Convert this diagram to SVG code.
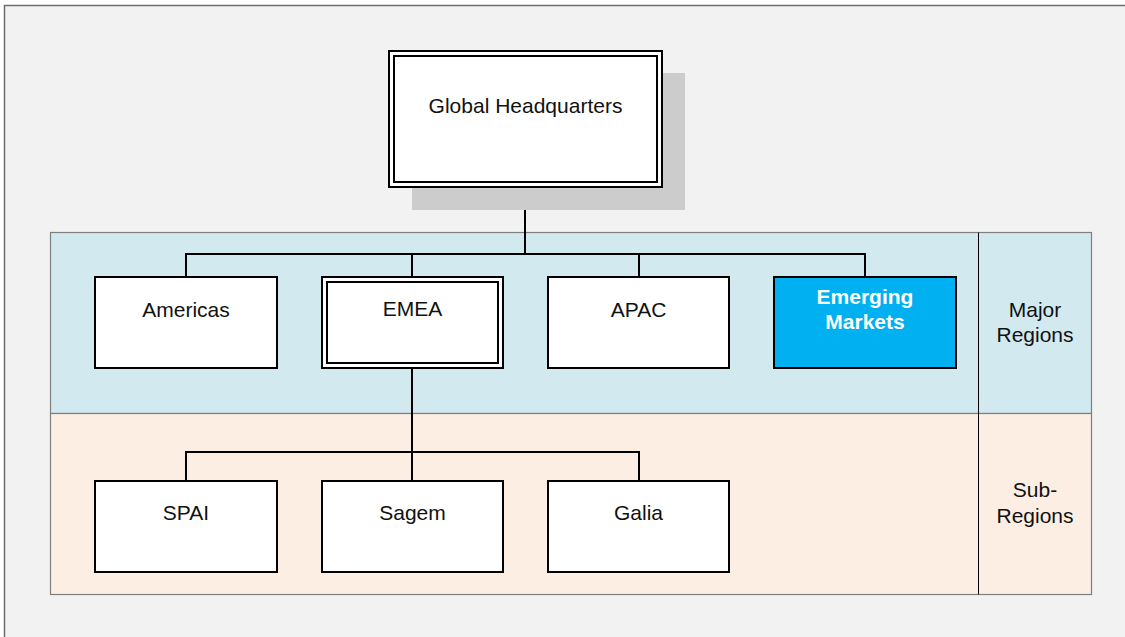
<svg xmlns="http://www.w3.org/2000/svg" width="1125" height="637" viewBox="0 0 1125 637">
  <style>
    .box { fill: #ffffff; stroke: #000000; stroke-width: 2; }
    .inner { fill: none; stroke: #000000; stroke-width: 2; }
    .conn { fill: none; stroke: #000000; stroke-width: 2; }
    .lbl { font-family: "Liberation Sans", Arial, sans-serif; font-size: 21px; fill: #111111; text-anchor: middle; }
    .bold { font-weight: bold; fill: #ffffff; }
    .band { stroke: #7f7f7f; stroke-width: 1.2; }
  </style>

  <!-- canvas -->
  <rect x="0" y="0" width="1125" height="637" fill="#ffffff"/>
  <rect x="4.5" y="5.5" width="1121" height="632" fill="#f2f2f2"/>
  <path d="M4.5,637 V5.5 H1125" fill="none" stroke="#6e6e6e" stroke-width="1.5"/>

  <!-- level bands -->
  <g id="bands">
    <rect class="band" x="50.5" y="232.5" width="1041" height="181" fill="#d2e9ef"/>
    <rect class="band" x="50.5" y="413.5" width="1041" height="181" fill="#fdeee4"/>
    <line x1="978.5" y1="232.5" x2="978.5" y2="594.5" stroke="#000000" stroke-width="1"/>
    <text class="lbl" x="1035" y="317">Major</text>
    <text class="lbl" x="1035" y="342">Regions</text>
    <text class="lbl" x="1035" y="497">Sub-</text>
    <text class="lbl" x="1035" y="523">Regions</text>
  </g>

  <!-- connectors -->
  <g id="connectors">
    <path class="conn" d="M525,187 V254 M186,277 V254 H865 V283 M412,254 V277 M639,254 V277"/>
    <path class="conn" d="M412,368 V452 M186,481 V452 H639 V481 M412,452 V481"/>
  </g>

  <!-- Global Headquarters -->
  <g id="node-hq">
    <rect x="412" y="73" width="273" height="137" fill="#cccccc"/>
    <rect class="box" x="389" y="51" width="273" height="136"/>
    <rect class="inner" x="394" y="56" width="263" height="126"/>
    <text class="lbl" x="525.5" y="113">Global Headquarters</text>
  </g>

  <g id="node-americas">
    <rect class="box" x="95" y="277" width="182" height="91"/>
    <text class="lbl" x="186" y="317">Americas</text>
  </g>

  <g id="node-emea">
    <rect class="box" x="322" y="277" width="181" height="91"/>
    <rect class="inner" x="327" y="282" width="171" height="81"/>
    <text class="lbl" x="412.5" y="316">EMEA</text>
  </g>

  <g id="node-apac">
    <rect class="box" x="548" y="277" width="181" height="91"/>
    <text class="lbl" x="638.5" y="317">APAC</text>
  </g>

  <g id="node-emerging">
    <rect class="box" x="774" y="277" width="182" height="91" style="fill:#00b0f0"/>
    <text class="lbl bold" x="865" y="304">Emerging</text>
    <text class="lbl bold" x="865" y="329">Markets</text>
  </g>

  <g id="node-spai">
    <rect class="box" x="95" y="481" width="182" height="91"/>
    <text class="lbl" x="186" y="520">SPAI</text>
  </g>

  <g id="node-sagem">
    <rect class="box" x="322" y="481" width="181" height="91"/>
    <text class="lbl" x="412.5" y="520">Sagem</text>
  </g>

  <g id="node-galia">
    <rect class="box" x="548" y="481" width="181" height="91"/>
    <text class="lbl" x="638.5" y="520">Galia</text>
  </g>
</svg>
